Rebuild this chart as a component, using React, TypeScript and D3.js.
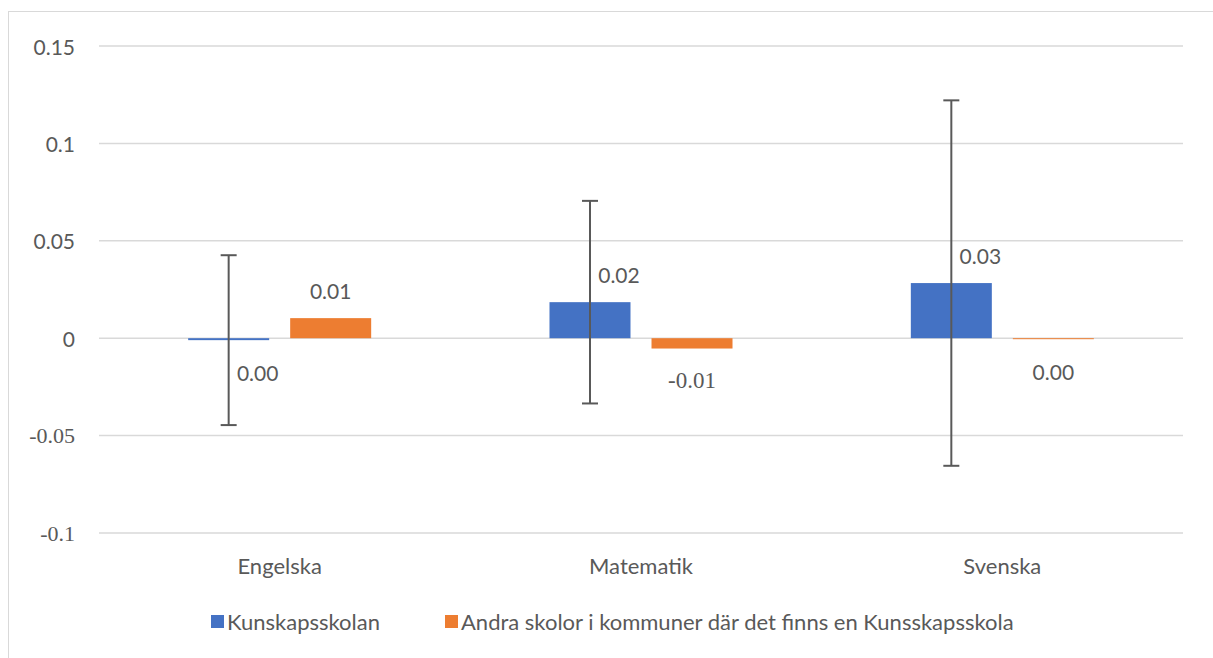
import React, { useRef, useEffect } from 'react';
import * as d3 from 'd3';

// Data
const categories = ['Engelska', 'Matematik', 'Svenska'];
const seriesNames = ['Kunskapsskolan', 'Andra skolor i kommuner där det finns en Kunsskapsskola'];
const kunskapsValues = [-0.001, 0.0185, 0.0283];
const kunskapsErrors = [0.0436, 0.052, 0.0938];
const andraValues = [0.0103, -0.0053, -0.0005];
const valueLabels = [
  ['0.00', '0.02', '0.03'],
  ['0.01', '-0.01', '0.00'],
];
const yTicks = [-0.1, -0.05, 0, 0.05, 0.1, 0.15];
const yTickLabels = ['-0.1', '-0.05', '0', '0.05', '0.1', '0.15'];

const colors = ['#4472C4', '#ED7D31'];
const textColor = '#595959';

const App = () => {
  const svgRef = useRef<SVGSVGElement>(null);

  useEffect(() => {
    const width = 1213;
    const height = 658;
    const margin = { top: 46, right: 30, bottom: 125, left: 99 };

    const svg = d3.select(svgRef.current)
      .attr('width', width)
      .attr('height', height);
    svg.selectAll('*').remove();

    // Font classes; negatives use a serif face, as in the original
    svg.append('style').text(`
      .sans { font-family: Lato, 'Open Sans', sans-serif; }
      .serif { font-family: 'Liberation Serif', Tinos, 'Times New Roman', 'DejaVu Serif', serif; }
    `);

    // Frame (only top and left edges visible)
    svg.append('line')
      .attr('x1', 8).attr('x2', width).attr('y1', 11.5).attr('y2', 11.5)
      .attr('stroke', '#d9d9d9').attr('stroke-width', 1);
    svg.append('line')
      .attr('x1', 8.5).attr('x2', 8.5).attr('y1', 11).attr('y2', height)
      .attr('stroke', '#d9d9d9').attr('stroke-width', 1);

    // Scales
    const x0 = d3.scaleBand()
      .domain(categories)
      .range([margin.left, width - margin.right])
      .paddingInner(0)
      .paddingOuter(0);

    const x1 = d3.scaleBand()
      .domain(seriesNames)
      .range([0, x0.bandwidth()])
      .paddingInner(0.206)
      .paddingOuter(0.874);

    const y = d3.scaleLinear()
      .domain([-0.1, 0.15])
      .range([height - margin.bottom, margin.top]);

    // Grid lines
    svg.append('g')
      .selectAll('line')
      .data(yTicks)
      .enter()
      .append('line')
      .attr('x1', margin.left)
      .attr('x2', width - margin.right)
      .attr('y1', d => y(d))
      .attr('y2', d => y(d))
      .attr('stroke', '#d9d9d9')
      .attr('stroke-width', 1.5);

    // Y tick labels
    svg.append('g')
      .selectAll('text')
      .data(yTicks)
      .enter()
      .append('text')
      .attr('class', d => (d < 0 ? 'serif' : 'sans'))
      .attr('x', 75)
      .attr('y', d => y(d))
      .attr('text-anchor', 'end')
      .attr('dominant-baseline', 'central')
      .attr('font-size', d => (d < 0 ? 22 : 21))
      .attr('fill', textColor)
      .text((d, i) => yTickLabels[i]);

    // Bars
    const allValues = [kunskapsValues, andraValues];
    seriesNames.forEach((s, si) => {
      svg.append('g')
        .selectAll('rect')
        .data(allValues[si])
        .enter()
        .append('rect')
        .attr('x', (d, i) => x0(categories[i])! + x1(s)!)
        .attr('width', x1.bandwidth())
        .attr('y', d => y(Math.max(0, d)))
        .attr('height', d => Math.max(1, Math.abs(y(d) - y(0))))
        .attr('fill', colors[si]);
    });

    // Error bars on Kunskapsskolan
    const eb = svg.append('g')
      .attr('stroke', '#595959')
      .attr('stroke-width', 2);
    kunskapsValues.forEach((v, i) => {
      const cx = x0(categories[i])! + x1(seriesNames[0])! + x1.bandwidth() / 2;
      const top = y(v + kunskapsErrors[i]);
      const bot = y(v - kunskapsErrors[i]);
      eb.append('line').attr('x1', cx).attr('x2', cx).attr('y1', top).attr('y2', bot);
      eb.append('line').attr('x1', cx - 8).attr('x2', cx + 8).attr('y1', top).attr('y2', top);
      eb.append('line').attr('x1', cx - 8).attr('x2', cx + 8).attr('y1', bot).attr('y2', bot);
    });

    // Data labels
    const labelShift = [29, 0];
    seriesNames.forEach((s, si) => {
      svg.append('g')
        .selectAll('text')
        .data(allValues[si])
        .enter()
        .append('text')
        .attr('class', (d, i) => (valueLabels[si][i].startsWith('-') ? 'serif' : 'sans'))
        .attr('x', (d, i) => x0(categories[i])! + x1(s)! + x1.bandwidth() / 2 + labelShift[si])
        .attr('y', d => (d >= 0.005 ? y(d) - 28 : y(Math.min(d, 0)) + 32))
        .attr('text-anchor', 'middle')
        .attr('dominant-baseline', 'central')
        .attr('font-size', (d, i) => (valueLabels[si][i].startsWith('-') ? 23 : 21))
        .attr('fill', textColor)
        .text((d, i) => valueLabels[si][i]);
    });

    // Category labels
    svg.append('g')
      .selectAll('text')
      .data(categories)
      .enter()
      .append('text')
      .attr('class', 'sans')
      .attr('x', d => x0(d)! + x0.bandwidth() / 2)
      .attr('y', 565)
      .attr('text-anchor', 'middle')
      .attr('dominant-baseline', 'central')
      .attr('font-size', 22)
      .attr('fill', textColor)
      .text(d => d);

    // Legend
    const legendX = [211, 445];
    const legend = svg.append('g');
    seriesNames.forEach((s, si) => {
      legend.append('rect')
        .attr('x', legendX[si])
        .attr('y', 615)
        .attr('width', 13)
        .attr('height', 13)
        .attr('fill', colors[si]);
      legend.append('text')
        .attr('class', 'sans')
        .attr('x', legendX[si] + 16)
        .attr('y', 621.5)
        .attr('dominant-baseline', 'central')
        .attr('font-size', 22)
        .attr('fill', textColor)
        .text(s);
    });
  }, []);

  return (
    <svg ref={svgRef} style={{ position: 'absolute', left: 0, top: 0, display: 'block' }}></svg>
  );
};

export default App;
